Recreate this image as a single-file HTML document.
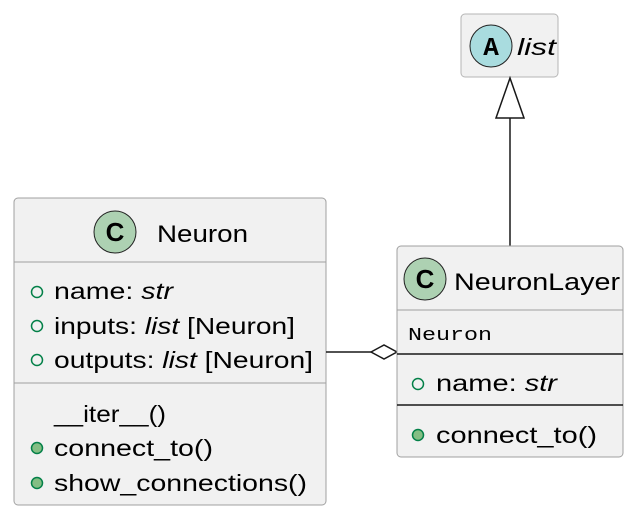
<!DOCTYPE html>
<html><head><meta charset="utf-8"><style>html,body{margin:0;padding:0;background:#fff}</style></head>
<body>
<svg width="638" height="518" viewBox="0 0 638 518" xmlns="http://www.w3.org/2000/svg" font-family="Liberation Sans, sans-serif">
<!-- list -->
<rect x="461" y="14" width="97" height="63" rx="4" fill="#f1f1f1" stroke="#b5b5b5" stroke-width="1"/>
<circle cx="491" cy="46" r="21" fill="#a9dcdf" stroke="#222" stroke-width="1"/>
<text x="491" y="55" font-family="Liberation Mono, monospace" font-weight="bold" font-size="26" text-anchor="middle">A</text>
<text x="517" y="55" font-size="23" font-style="italic" textLength="39" lengthAdjust="spacingAndGlyphs">list</text>
<!-- inheritance -->
<line x1="510" y1="118" x2="510" y2="246" stroke="#181818" stroke-width="1.5"/>
<polygon points="510,78 496,118 524,118" fill="#fff" stroke="#181818" stroke-width="1.5"/>
<!-- Neuron -->
<rect x="14" y="198" width="312" height="307" rx="4" fill="#f1f1f1" stroke="#a0a0a0" stroke-width="1"/>
<circle cx="115" cy="232" r="21" fill="#add1b2" stroke="#222" stroke-width="1"/>
<text x="115" y="241" font-size="26" font-weight="bold" text-anchor="middle">C</text>
<text x="157" y="242" font-size="24" textLength="91" lengthAdjust="spacingAndGlyphs">Neuron</text>
<line x1="14" y1="262" x2="326" y2="262" stroke="#a0a0a0"/>
<g font-size="23" fill="#000" lengthAdjust="spacingAndGlyphs">
<text x="54" y="299" textLength="119" lengthAdjust="spacingAndGlyphs">name: <tspan font-style="italic">str</tspan></text>
<text x="54" y="334" textLength="241" lengthAdjust="spacingAndGlyphs">inputs: <tspan font-style="italic">list</tspan> [Neuron]</text>
<text x="54" y="368" textLength="259" lengthAdjust="spacingAndGlyphs">outputs: <tspan font-style="italic">list</tspan> [Neuron]</text>
<text x="54" y="422" textLength="112" lengthAdjust="spacingAndGlyphs">__iter__()</text>
<text x="54" y="456" textLength="159" lengthAdjust="spacingAndGlyphs">connect_to()</text>
<text x="54" y="491" textLength="253" lengthAdjust="spacingAndGlyphs">show_connections()</text>
</g>
<g stroke="#038048" stroke-width="1.5">
<circle cx="37" cy="292" r="5.5" fill="none"/>
<circle cx="37" cy="326" r="5.5" fill="none"/>
<circle cx="37" cy="360" r="5.5" fill="none"/>
<circle cx="37" cy="448" r="5.5" fill="#84be84"/>
<circle cx="37" cy="483" r="5.5" fill="#84be84"/>
</g>
<line x1="14" y1="383" x2="326" y2="383" stroke="#a0a0a0"/>
<!-- aggregation -->
<line x1="326" y1="352" x2="371" y2="352" stroke="#181818" stroke-width="1.5"/>
<polygon points="371,352 384,345 397,352 384,359" fill="#fff" stroke="#181818" stroke-width="1.5"/>
<!-- NeuronLayer -->
<rect x="397" y="246" width="226" height="211" rx="4" fill="#f1f1f1" stroke="#a0a0a0" stroke-width="1"/>
<circle cx="425" cy="279" r="21" fill="#add1b2" stroke="#222" stroke-width="1"/>
<text x="425" y="288" font-size="26" font-weight="bold" text-anchor="middle">C</text>
<text x="454" y="290" font-size="24" textLength="166" lengthAdjust="spacingAndGlyphs">NeuronLayer</text>
<line x1="397" y1="310" x2="623" y2="310" stroke="#a0a0a0"/>
<text x="408" y="340" font-family="Liberation Mono, monospace" font-size="18" textLength="84" lengthAdjust="spacingAndGlyphs">Neuron</text>
<line x1="397" y1="354" x2="623" y2="354" stroke="#181818" stroke-width="1.5"/>
<text x="436" y="391" font-size="23" textLength="121" lengthAdjust="spacingAndGlyphs">name: <tspan font-style="italic">str</tspan></text>
<circle cx="418" cy="384" r="5.5" fill="none" stroke="#038048" stroke-width="1.5"/>
<line x1="397" y1="405" x2="623" y2="405" stroke="#181818" stroke-width="1.5"/>
<text x="436" y="443" font-size="23" textLength="161" lengthAdjust="spacingAndGlyphs">connect_to()</text>
<circle cx="418" cy="435" r="5.5" fill="#84be84" stroke="#038048" stroke-width="1.5"/>
</svg>
</body></html>
